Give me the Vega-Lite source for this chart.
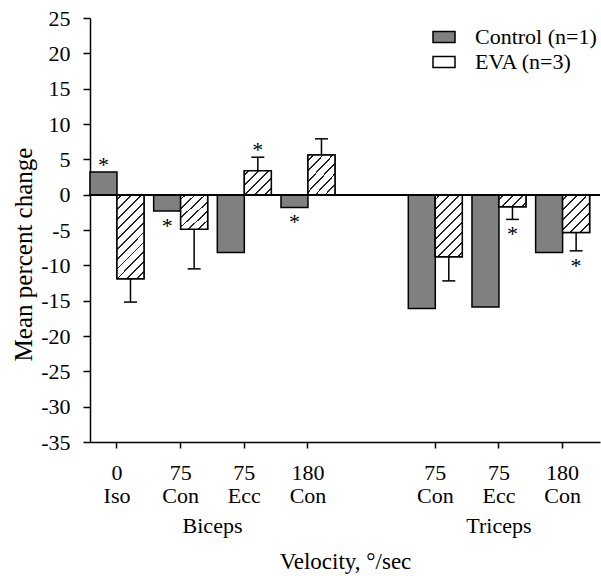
{
  "$schema": "https://vega.github.io/schema/vega-lite/v6.json",
  "autosize": {"type": "none"},
  "padding": {"left": 90, "top": 18, "right": 1, "bottom": 134},
  "width": 510,
  "height": 424,
  "config": {
    "font": "Liberation Serif",
    "view": {"stroke": null},
    "axis": {
      "domainColor": "black", "tickColor": "black", "labelColor": "black", "titleColor": "black",
      "domainWidth": 1.5, "tickWidth": 1.5, "grid": false,
      "labelFont": "Liberation Serif", "titleFont": "Liberation Serif",
      "labelFontSize": 22, "titleFontSize": 22, "titleFontWeight": "normal"
    },
    "legend": {"labelFont": "Liberation Serif", "labelFontSize": 22, "labelColor": "black"}
  },
  "data": {
    "values": [
      {"muscle": "Biceps", "cond": "Biceps 0 Iso", "group": "Control", "value": 3.2, "sig": true},
      {"muscle": "Biceps", "cond": "Biceps 0 Iso", "group": "EVA", "value": -11.9, "err": -15.2, "sig": false},
      {"muscle": "Biceps", "cond": "Biceps 75 Con", "group": "Control", "value": -2.3, "sig": true},
      {"muscle": "Biceps", "cond": "Biceps 75 Con", "group": "EVA", "value": -4.9, "err": -10.5, "sig": false},
      {"muscle": "Biceps", "cond": "Biceps 75 Ecc", "group": "Control", "value": -8.2, "sig": false},
      {"muscle": "Biceps", "cond": "Biceps 75 Ecc", "group": "EVA", "value": 3.4, "err": 5.3, "sig": true},
      {"muscle": "Biceps", "cond": "Biceps 180 Con", "group": "Control", "value": -1.8, "sig": true},
      {"muscle": "Biceps", "cond": "Biceps 180 Con", "group": "EVA", "value": 5.6, "err": 7.9, "sig": false},
      {"muscle": "Triceps", "cond": "Triceps 75 Con", "group": "Control", "value": -16.1, "sig": false},
      {"muscle": "Triceps", "cond": "Triceps 75 Con", "group": "EVA", "value": -8.8, "err": -12.2, "sig": false},
      {"muscle": "Triceps", "cond": "Triceps 75 Ecc", "group": "Control", "value": -15.9, "sig": false},
      {"muscle": "Triceps", "cond": "Triceps 75 Ecc", "group": "EVA", "value": -1.7, "err": -3.5, "sig": true},
      {"muscle": "Triceps", "cond": "Triceps 180 Con", "group": "Control", "value": -8.2, "sig": false},
      {"muscle": "Triceps", "cond": "Triceps 180 Con", "group": "EVA", "value": -5.35, "err": -7.95, "sig": true}
    ]
  },
  "encoding": {
    "x": {
      "field": "cond", "type": "nominal",
      "scale": {
        "domain": ["Biceps 0 Iso", "Biceps 75 Con", "Biceps 75 Ecc", "Biceps 180 Con", "gap", "Triceps 75 Con", "Triceps 75 Ecc", "Triceps 180 Con"],
        "paddingInner": 0.152, "paddingOuter": 0.0816, "align": 0
      },
      "axis": {
        "title": "Velocity, °/sec",
        "values": ["Biceps 0 Iso", "Biceps 75 Con", "Biceps 75 Ecc", "Biceps 180 Con", "Triceps 75 Con", "Triceps 75 Ecc", "Triceps 180 Con"],
        "labelExpr": "split(replace(replace(datum.label, 'Biceps ', ''), 'Triceps ', ''), ' ')",
        "labelAngle": 0, "labelAlign": "center", "labelBaseline": "top",
        "labelLineHeight": 23, "tickSize": 6, "labelPadding": 14,
        "titleY": 126, "titleBaseline": "alphabetic", "titleFontSize": 23
      }
    },
    "xOffset": {"field": "group", "type": "nominal", "scale": {"domain": ["Control", "EVA"], "paddingInner": 0, "paddingOuter": 0}},
    "y": {
      "field": "value", "type": "quantitative",
      "scale": {"domain": [-35, 25], "nice": false},
      "axis": {
        "title": "Mean percent change",
        "values": [-35, -30, -25, -20, -15, -10, -5, 0, 5, 10, 15, 20, 25],
        "labelExpr": "toString(datum.value)",
        "tickSize": 7, "labelPadding": 13,
        "titleFontSize": 25,
        "titleX": -54, "titleY": 236
      }
    }
  },
  "layer": [
    {
      "mark": {"type": "bar", "stroke": "black", "strokeWidth": 1.5},
      "encoding": {
        "fill": {
          "field": "group", "type": "nominal",
          "scale": {"domain": ["Control", "EVA"], "range": ["#808080", "#ffffff"]},
          "legend": {
            "title": null, "orient": "none", "legendX": 342, "legendY": 7, "padding": 0,
            "symbolType": "M-1,-0.5H1V0.5H-1Z", "symbolSize": 484, "symbolStrokeColor": "black", "symbolStrokeWidth": 1.5,
            "labelOffset": 19, "rowPadding": 2, "labelExpr": "datum.label == 'Control' ? 'Control (n=1)' : 'EVA (n=3)'",
            "encode": {
              "symbols": {
                "update": {
                  "fill": [
                    {"test": "datum.value === 'EVA'", "value": {"gradient": "linear", "x1": 0, "y1": 0, "x2": 1.2, "y2": 0.6, "stops": [
                      {"offset": 0.1221, "color": "white"}, {"offset": 0.1221, "color": "#222"}, {"offset": 0.1779, "color": "#222"}, {"offset": 0.1779, "color": "white"},
                      {"offset": 0.4221, "color": "white"}, {"offset": 0.4221, "color": "#222"}, {"offset": 0.4779, "color": "#222"}, {"offset": 0.4779, "color": "white"},
                      {"offset": 0.7221, "color": "white"}, {"offset": 0.7221, "color": "#222"}, {"offset": 0.7779, "color": "#222"}, {"offset": 0.7779, "color": "white"}
                    ]}},
                    {"value": "#808080"}
                  ],
                  "stroke": {"value": "black"},
                  "strokeWidth": {"value": 1.5},
                  "opacity": {"value": 1}
                }
              }
            }
          }
        }
      }
    },
    {
      "transform": [{"filter": "datum.group == 'EVA'"}],
      "mark": {"type": "bar", "stroke": "black", "strokeWidth": 1.5},
      "encoding": {
        "fill": {
          "condition": [
            {"test": "abs(datum.value) > 10", "value": {"gradient": "linear", "x1": 0, "y1": 0, "x2": 0.385, "y2": 1.198, "stops": [
              {"offset": 0.0363, "color": "white"}, {"offset": 0.0363, "color": "#222"}, {"offset": 0.0529, "color": "#222"}, {"offset": 0.0529, "color": "white"},
              {"offset": 0.1255, "color": "white"}, {"offset": 0.1255, "color": "#222"}, {"offset": 0.1421, "color": "#222"}, {"offset": 0.1421, "color": "white"},
              {"offset": 0.2147, "color": "white"}, {"offset": 0.2147, "color": "#222"}, {"offset": 0.2313, "color": "#222"}, {"offset": 0.2313, "color": "white"},
              {"offset": 0.3039, "color": "white"}, {"offset": 0.3039, "color": "#222"}, {"offset": 0.3205, "color": "#222"}, {"offset": 0.3205, "color": "white"},
              {"offset": 0.3931, "color": "white"}, {"offset": 0.3931, "color": "#222"}, {"offset": 0.4097, "color": "#222"}, {"offset": 0.4097, "color": "white"},
              {"offset": 0.4823, "color": "white"}, {"offset": 0.4823, "color": "#222"}, {"offset": 0.4989, "color": "#222"}, {"offset": 0.4989, "color": "white"},
              {"offset": 0.5715, "color": "white"}, {"offset": 0.5715, "color": "#222"}, {"offset": 0.5881, "color": "#222"}, {"offset": 0.5881, "color": "white"},
              {"offset": 0.6607, "color": "white"}, {"offset": 0.6607, "color": "#222"}, {"offset": 0.6773, "color": "#222"}, {"offset": 0.6773, "color": "white"},
              {"offset": 0.7499, "color": "white"}, {"offset": 0.7499, "color": "#222"}, {"offset": 0.7665, "color": "#222"}, {"offset": 0.7665, "color": "white"},
              {"offset": 0.8391, "color": "white"}, {"offset": 0.8391, "color": "#222"}, {"offset": 0.8557, "color": "#222"}, {"offset": 0.8557, "color": "white"},
              {"offset": 0.9283, "color": "white"}, {"offset": 0.9283, "color": "#222"}, {"offset": 0.9449, "color": "#222"}, {"offset": 0.9449, "color": "white"}
            ]}},
            {"test": "abs(datum.value) > 7", "value": {"gradient": "linear", "x1": 0, "y1": 0, "x2": 0.5255, "y2": 1.2067, "stops": [
              {"offset": 0.0453, "color": "white"}, {"offset": 0.0453, "color": "#222"}, {"offset": 0.0659, "color": "#222"}, {"offset": 0.0659, "color": "white"},
              {"offset": 0.1565, "color": "white"}, {"offset": 0.1565, "color": "#222"}, {"offset": 0.1771, "color": "#222"}, {"offset": 0.1771, "color": "white"},
              {"offset": 0.2677, "color": "white"}, {"offset": 0.2677, "color": "#222"}, {"offset": 0.2883, "color": "#222"}, {"offset": 0.2883, "color": "white"},
              {"offset": 0.3789, "color": "white"}, {"offset": 0.3789, "color": "#222"}, {"offset": 0.3995, "color": "#222"}, {"offset": 0.3995, "color": "white"},
              {"offset": 0.4901, "color": "white"}, {"offset": 0.4901, "color": "#222"}, {"offset": 0.5107, "color": "#222"}, {"offset": 0.5107, "color": "white"},
              {"offset": 0.6013, "color": "white"}, {"offset": 0.6013, "color": "#222"}, {"offset": 0.6219, "color": "#222"}, {"offset": 0.6219, "color": "white"},
              {"offset": 0.7125, "color": "white"}, {"offset": 0.7125, "color": "#222"}, {"offset": 0.7331, "color": "#222"}, {"offset": 0.7331, "color": "white"},
              {"offset": 0.8237, "color": "white"}, {"offset": 0.8237, "color": "#222"}, {"offset": 0.8443, "color": "#222"}, {"offset": 0.8443, "color": "white"},
              {"offset": 0.9349, "color": "white"}, {"offset": 0.9349, "color": "#222"}, {"offset": 0.9555, "color": "#222"}, {"offset": 0.9555, "color": "white"}
            ]}},
            {"test": "abs(datum.value) > 4.5", "value": {"gradient": "linear", "x1": 0, "y1": 0, "x2": 0.8236, "y2": 1.1287, "stops": [
              {"offset": 0.0630, "color": "white"}, {"offset": 0.0630, "color": "#222"}, {"offset": 0.0918, "color": "#222"}, {"offset": 0.0918, "color": "white"},
              {"offset": 0.2177, "color": "white"}, {"offset": 0.2177, "color": "#222"}, {"offset": 0.2465, "color": "#222"}, {"offset": 0.2465, "color": "white"},
              {"offset": 0.3724, "color": "white"}, {"offset": 0.3724, "color": "#222"}, {"offset": 0.4012, "color": "#222"}, {"offset": 0.4012, "color": "white"},
              {"offset": 0.5271, "color": "white"}, {"offset": 0.5271, "color": "#222"}, {"offset": 0.5559, "color": "#222"}, {"offset": 0.5559, "color": "white"},
              {"offset": 0.6818, "color": "white"}, {"offset": 0.6818, "color": "#222"}, {"offset": 0.7106, "color": "#222"}, {"offset": 0.7106, "color": "white"},
              {"offset": 0.8365, "color": "white"}, {"offset": 0.8365, "color": "#222"}, {"offset": 0.8653, "color": "#222"}, {"offset": 0.8653, "color": "white"}
            ]}},
            {"test": "abs(datum.value) > 2.5", "value": {"gradient": "linear", "x1": 0, "y1": 0, "x2": 1.0552, "y2": 0.9379, "stops": [
              {"offset": 0.0791, "color": "white"}, {"offset": 0.0791, "color": "#222"}, {"offset": 0.1151, "color": "#222"}, {"offset": 0.1151, "color": "white"},
              {"offset": 0.2732, "color": "white"}, {"offset": 0.2732, "color": "#222"}, {"offset": 0.3092, "color": "#222"}, {"offset": 0.3092, "color": "white"},
              {"offset": 0.4673, "color": "white"}, {"offset": 0.4673, "color": "#222"}, {"offset": 0.5033, "color": "#222"}, {"offset": 0.5033, "color": "white"},
              {"offset": 0.6614, "color": "white"}, {"offset": 0.6614, "color": "#222"}, {"offset": 0.6974, "color": "#222"}, {"offset": 0.6974, "color": "white"},
              {"offset": 0.8555, "color": "white"}, {"offset": 0.8555, "color": "#222"}, {"offset": 0.8915, "color": "#222"}, {"offset": 0.8915, "color": "white"}
            ]}}
          ],
          "value": {"gradient": "linear", "x1": 0, "y1": 0, "x2": 1.2062, "y2": 0.5361, "stops": [
            {"offset": 0.1033, "color": "white"}, {"offset": 0.1033, "color": "#222"}, {"offset": 0.1505, "color": "#222"}, {"offset": 0.1505, "color": "white"},
            {"offset": 0.3571, "color": "white"}, {"offset": 0.3571, "color": "#222"}, {"offset": 0.4043, "color": "#222"}, {"offset": 0.4043, "color": "white"},
            {"offset": 0.6109, "color": "white"}, {"offset": 0.6109, "color": "#222"}, {"offset": 0.6581, "color": "#222"}, {"offset": 0.6581, "color": "white"},
            {"offset": 0.8647, "color": "white"}, {"offset": 0.8647, "color": "#222"}, {"offset": 0.9119, "color": "#222"}, {"offset": 0.9119, "color": "white"}
          ]}
        }
      }
    },
    {
      "mark": {"type": "rule", "color": "black", "strokeWidth": 1.5},
      "encoding": {"x": null, "xOffset": null, "y": {"datum": 0}}
    },
    {
      "transform": [{"filter": "datum.group == 'EVA'"}],
      "mark": {"type": "rule", "color": "black", "strokeWidth": 1.5},
      "encoding": {"y2": {"field": "err"}}
    },
    {
      "transform": [{"filter": "datum.group == 'EVA'"}],
      "mark": {"type": "tick", "color": "black", "opacity": 1, "size": 13, "thickness": 1.5, "orient": "horizontal"},
      "encoding": {"y": {"field": "err", "type": "quantitative"}}
    },
    {
      "transform": [{"filter": "datum.sig && datum.group == 'Control' && datum.value > 0"}],
      "mark": {"type": "text", "text": "*", "font": "Liberation Serif", "fontSize": 22, "color": "black", "baseline": "middle", "dy": -7},
      "encoding": {}
    },
    {
      "transform": [{"filter": "datum.sig && datum.group == 'Control' && datum.value < 0"}],
      "mark": {"type": "text", "text": "*", "font": "Liberation Serif", "fontSize": 22, "color": "black", "baseline": "middle", "dy": 15},
      "encoding": {}
    },
    {
      "transform": [{"filter": "datum.sig && datum.group == 'EVA' && datum.err > 0"}],
      "mark": {"type": "text", "text": "*", "font": "Liberation Serif", "fontSize": 22, "color": "black", "baseline": "middle", "dy": -7},
      "encoding": {"y": {"field": "err", "type": "quantitative"}}
    },
    {
      "transform": [{"filter": "datum.sig && datum.group == 'EVA' && datum.err < 0"}],
      "mark": {"type": "text", "text": "*", "font": "Liberation Serif", "fontSize": 22, "color": "black", "baseline": "middle", "dy": 15},
      "encoding": {"y": {"field": "err", "type": "quantitative"}}
    },
    {
      "transform": [{"filter": "datum.cond == 'Biceps 75 Ecc' && datum.group == 'Control'"}],
      "mark": {"type": "text", "font": "Liberation Serif", "fontSize": 22, "color": "black", "baseline": "alphabetic", "dy": 91},
      "encoding": {
        "x": {"field": "cond", "type": "nominal", "bandPosition": -0.089},
        "xOffset": null,
        "y": {"datum": -35},
        "text": {"field": "muscle"}
      }
    },
    {
      "transform": [{"filter": "datum.cond == 'Triceps 75 Ecc' && datum.group == 'Control'"}],
      "mark": {"type": "text", "font": "Liberation Serif", "fontSize": 22, "color": "black", "baseline": "alphabetic", "dy": 91},
      "encoding": {
        "x": {"field": "cond", "type": "nominal", "bandPosition": 0.5},
        "xOffset": null,
        "y": {"datum": -35},
        "text": {"field": "muscle"}
      }
    }
  ]
}
